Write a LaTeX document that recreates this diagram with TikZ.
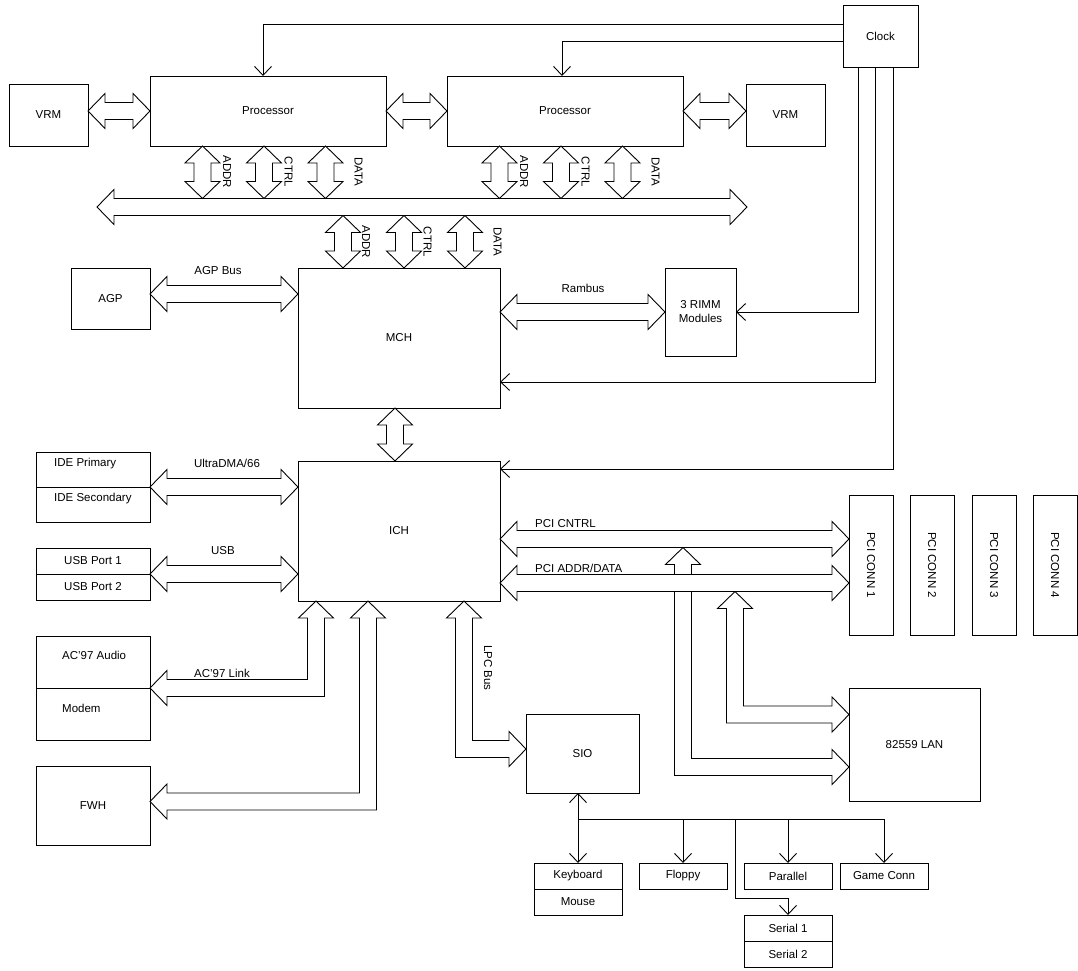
\documentclass[tikz,border=0pt]{standalone}
\usepackage{fontspec}
\usepackage{graphicx}
\setsansfont{Liberation Sans}
\usetikzlibrary{arrows.meta, positioning, calc}

% double headed block arrows: horizontal, vertical, and one bend
\newcommand{\fath}[2]{%
  \draw[blockarrow] let \p1=#1, \p2=#2, \n1={sign((\x2)-(\x1))} in
    (\x1,\y1) -- ({\x1+\n1*17pt},{\y1+17.5pt}) -- ({\x1+\n1*17pt},{\y1+8.5pt})
    -- ({\x2-\n1*17pt},{\y1+8.5pt}) -- ({\x2-\n1*17pt},{\y1+17.5pt}) -- (\x2,\y1)
    -- ({\x2-\n1*17pt},{\y1-17.5pt}) -- ({\x2-\n1*17pt},{\y1-8.5pt})
    -- ({\x1+\n1*17pt},{\y1-8.5pt}) -- ({\x1+\n1*17pt},{\y1-17.5pt}) -- cycle;}
\newcommand{\fatv}[2]{%
  \draw[blockarrow] let \p1=#1, \p2=#2, \n1={sign((\y2)-(\y1))} in
    (\x1,\y1) -- ({\x1+17.5pt},{\y1+\n1*17pt}) -- ({\x1+8.5pt},{\y1+\n1*17pt})
    -- ({\x1+8.5pt},{\y2-\n1*17pt}) -- ({\x1+17.5pt},{\y2-\n1*17pt}) -- (\x1,\y2)
    -- ({\x1-17.5pt},{\y2-\n1*17pt}) -- ({\x1-8.5pt},{\y2-\n1*17pt})
    -- ({\x1-8.5pt},{\y1+\n1*17pt}) -- ({\x1-17.5pt},{\y1+\n1*17pt}) -- cycle;}
\newcommand{\fatelbow}[2]{%
  \draw[blockarrow] let \p1=#1, \p2=#2, \n1={sign((\x2)-(\x1))},
      \n2={sign((\y2)-(\y1))}, \n3={\n1*\n2} in
    (\x1,\y1) -- ({\x1+17.5pt},{\y1+\n2*17pt}) -- ({\x1+8.5pt},{\y1+\n2*17pt})
    -- ({\x1+8.5pt},{\y2-\n3*8.5pt}) -- ({\x2-\n1*17pt},{\y2-\n3*8.5pt})
    -- ({\x2-\n1*17pt},{\y2-\n3*17.5pt}) -- (\x2,\y2)
    -- ({\x2-\n1*17pt},{\y2+\n3*17.5pt}) -- ({\x2-\n1*17pt},{\y2+\n3*8.5pt})
    -- ({\x1-8.5pt},{\y2+\n3*8.5pt}) -- ({\x1-8.5pt},{\y1+\n2*17pt})
    -- ({\x1-17.5pt},{\y1+\n2*17pt}) -- cycle;}

\begin{document}
\begin{tikzpicture}[
    x=1pt, y=-1pt,
    >={Straight Barb[length=9pt,width=17pt]},
    chip/.style={draw, line width=0.9pt, inner sep=0pt, outer sep=0pt, align=center,
      font=\sffamily\fontsize{11.5}{14}\selectfont},
    lbl/.style={inner sep=0pt, font=\sffamily\fontsize{11.5}{14}\selectfont},
    vlbl/.style={lbl, rotate=-90},
    blockarrow/.style={draw, fill=white, line width=0.9pt, line join=miter},
    sig/.style={line width=0.9pt},
]
\useasboundingbox (0,0) rectangle (1078,971);

% Clock, processors, VRMs
\node[chip, minimum width=75pt, minimum height=62pt] (clock) at (880.5,36) {Clock};
\node[chip, minimum width=236pt, minimum height=70pt] (procL) at (268,111) {Processor};
\node[chip, minimum width=236pt, minimum height=70pt, right=61pt of procL] (procR) {Processor};
\node[chip, minimum width=79pt, minimum height=62pt] (vrmL) at (48.5,115) {VRM};
\node[chip, minimum width=79pt, minimum height=62pt] (vrmR) at (785.5,115) {VRM};

% Memory side
\node[chip, minimum width=79pt, minimum height=61pt] (agp) at (110.5,298.5) {AGP};
\node[chip, minimum width=202pt, minimum height=140pt] (mch) at (399,338) {MCH};
\node[chip, minimum width=71pt, minimum height=88pt] (rimm) at (700.5,312) {3 RIMM\\Modules};
\node[chip, minimum width=202pt, minimum height=140pt, below=53pt of mch] (ich) {ICH};

% Left column
\node[chip, minimum width=114pt, minimum height=35pt] (ide1) at (93,469.5) {};
\node[chip, minimum width=114pt, minimum height=35pt, below=0pt of ide1] (ide2) {};
\node[lbl, right=18pt of ide1.west, yshift=6pt] (ide1txt) {IDE Primary};
\node[lbl, right=18pt of ide2.west, yshift=6pt] (ide2txt) {IDE Secondary};
\node[chip, minimum width=114pt, minimum height=26pt] (usb1) at (93,561) {USB Port 1};
\node[chip, minimum width=114pt, minimum height=26pt, below=0pt of usb1] (usb2) {USB Port 2};
\node[chip, minimum width=114pt, minimum height=52pt] (ac97) at (93,662) {};
\node[chip, minimum width=114pt, minimum height=52pt, below=0pt of ac97] (modem) {};
\node[lbl, right=26pt of ac97.west, yshift=7pt] (ac97txt) {AC'97 Audio};
\node[lbl, right=26pt of modem.west, yshift=6pt] (modemtxt) {Modem};
\node[chip, minimum width=114pt, minimum height=79pt] (fwh) at (93,805.5) {FWH};

% PCI slots and LAN
\foreach \i/\x in {1/871, 2/932, 3/994, 4/1055}
  \node[chip, minimum width=44pt, minimum height=140pt] (pci\i) at (\x,565) {\rotatebox{-90}{PCI CONN \i}};
\node[chip, minimum width=131pt, minimum height=113pt] (lan) at (914.5,744.5) {82559 LAN};

% Super I/O and its devices
\node[chip, minimum width=113pt, minimum height=79pt] (sio) at (582.5,753.5) {SIO};
\node[chip, minimum width=88pt, minimum height=26pt] (kbd) at (578,876) {Keyboard};
\node[chip, minimum width=88pt, minimum height=26pt, below=0pt of kbd] (mouse) {Mouse};
\node[chip, minimum width=88pt, minimum height=26pt, right=17pt of kbd] (floppy) {Floppy};
\node[chip, minimum width=88pt, minimum height=26pt, right=17pt of floppy] (parallel) {Parallel};
\node[chip, minimum width=88pt, minimum height=26pt, right=8pt of parallel] (game) {Game Conn};
\node[chip, minimum width=88pt, minimum height=26pt, below=26pt of parallel] (ser1) {Serial 1};
\node[chip, minimum width=88pt, minimum height=26pt, below=0pt of ser1] (ser2) {Serial 2};

% Host bus
\coordinate (busL) at (97,207);
\coordinate (busR) at (747,207);
\coordinate (busN) at (0,198.5);
\coordinate (busS) at (0,215.5);
\fath{(busL)}{(busR)}
\fath{(vrmL.east |- procL.west)}{(procL.west)}
\fath{(procL.east)}{(procR.west)}
\fath{(procR.east)}{(vrmR.west |- procR.east)}
\foreach \c in {procL, procR}
  \foreach \o/\s/\d in {52.5/ADDR/24.5, 114/CTRL/24.5, 175.5/DATA/33}{
    \fatv{([xshift=\o pt]\c.south west)}{(busN)}
    \node[vlbl] (\c-\s) at ($(\c.south west)+(\o+\d,26)$) {\s};
  }
\foreach \o/\s/\d in {45/ADDR/23, 106/CTRL/23.5, 167/DATA/32.5}{
  \fatv{([xshift=\o pt]mch.north west)}{(busS)}
  \node[vlbl] (mch-\s) at ($(mch.north west)+(\o+\d,-26)$) {\s};
}

% Hub buses
\fath{([yshift=4.5pt]agp.east)}{([yshift=4.5pt]agp.east -| mch.west)}
\fath{(rimm.west -| mch.east)}{(rimm.west)}
\fatv{([xshift=-4pt]mch.south)}{(ich.north)}
\fath{(ide1.south east)}{(ide1.south east -| ich.west)}
\fath{(usb1.south east)}{(usb1.south east -| ich.west)}
\fatelbow{([xshift=18pt]ich.south west)}{(ac97.south east)}
\fatelbow{([xshift=70pt]ich.south west)}{([yshift=4pt]fwh.east)}
\fatelbow{([xshift=166pt]ich.south west)}{([yshift=4.5pt]sio.west)}

\node[lbl] (agpbus) at (218,271) {AGP Bus};
\node[lbl] (rambus) at (583,288) {Rambus};
\node[lbl] (udma) at (227,463) {UltraDMA/66};
\node[lbl] (usb) at (223,551) {USB};
\node[lbl] (aclink) at (222,673) {AC'97 Link};
\node[vlbl] (lpc) at (488,668) {LPC Bus};

% PCI buses (LAN arrows go under them)
\coordinate (ctl) at ([yshift=-8pt]ich.east);
\coordinate (add) at ([yshift=-52pt]ich.east);
\coordinate (ctlS) at ($(ctl)+(183,8.5)$);
\coordinate (addS) at ($(add)+(235,8.5)$);
\fatelbow{(ctlS)}{([yshift=-22.5pt]lan.west)}
\fatelbow{(addS)}{([yshift=30pt]lan.west)}
\fath{(add)}{(add -| pci1.west)}
\fath{(ctl)}{(ctl -| pci1.west)}
\node[lbl, anchor=west] (ctltxt) at ($(ctl)+(35,-15)$) {PCI CNTRL};
\node[lbl, anchor=west] (addtxt) at ($(add)+(35,-15)$) {PCI ADDR/DATA};

% Clock lines
\draw[sig, ->] ([yshift=12pt]clock.west) -| ([xshift=-5pt]procL.north);
\draw[sig, ->] ([yshift=-5pt]clock.west) -| ([xshift=-3pt]procR.north);
\draw[sig, ->] ([xshift=-22.5pt]clock.south) |- (rimm.east);
\draw[sig, ->] ([xshift=-5.5pt]clock.south) |- ([yshift=-44pt]mch.east);
\draw[sig, ->] ([xshift=12.5pt]clock.south) |- ([yshift=-8pt]ich.north east);

% SIO lines
\draw[sig, <->] (kbd.north |- sio.south) -- (kbd.north);
\coordinate (sbus) at ($(kbd.north)+(0,-44)$);
\draw[sig] (sbus) -- (sbus -| game.north);
\foreach \p in {floppy, parallel, game}
  \draw[sig, ->] (sbus -| \p.north) -- (\p.north);
\draw[sig, ->] ($(sbus)+(157.5,0)$) |- ($(ser1.north)+(0,-17)$) -- (ser1.north);

\end{tikzpicture}
\end{document}
